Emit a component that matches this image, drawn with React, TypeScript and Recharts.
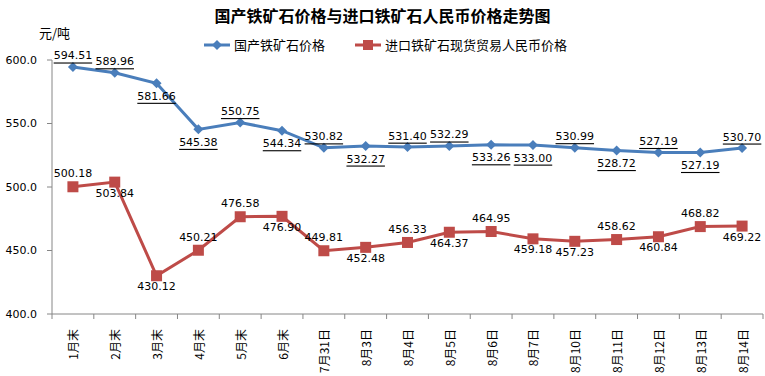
import React from 'react'
import { LabelList, Line, LineChart, XAxis, YAxis } from 'recharts'

const dates = ['1月末', '2月末', '3月末', '4月末', '5月末', '6月末', '7月31日', '8月3日', '8月4日', '8月5日', '8月6日', '8月7日', '8月10日', '8月11日', '8月12日', '8月13日', '8月14日']
const domestic = [594.51, 589.96, 581.66, 545.38, 550.75, 544.34, 530.82, 532.27, 531.40, 532.29, 533.26, 533.00, 530.99, 528.72, 527.19, 527.19, 530.70]
const imported = [500.18, 503.84, 430.12, 450.21, 476.58, 476.90, 449.81, 452.48, 456.33, 464.37, 464.95, 459.18, 457.23, 458.62, 460.84, 468.82, 469.22]
const domesticSide = ['up', 'up', 'down', 'down', 'up', 'down', 'up', 'down', 'up', 'up', 'down', 'down', 'up', 'down', 'up', 'down', 'up']
const importedSide = ['up', 'down', 'down', 'up', 'up', 'down', 'up', 'down', 'up', 'down', 'up', 'down', 'down', 'up', 'down', 'up', 'down']
const yTicks = [400, 450, 500, 550, 600]

const data = dates.map((d, i) => ({ date: d, domestic: domestic[i], imported: imported[i] }))

const BLUE = '#4A7EBB'
const RED = '#BE4B48'
const W = 765
const H = 376
const LEFT = 52
const RIGHT = 2
const band = (W - LEFT - RIGHT) / dates.length
const labelFont = '"DejaVu Sans", Verdana, sans-serif'
const cjk = '"Noto Sans CJK SC", sans-serif'

const Diamond = (props: any) => {
  const { cx, cy } = props
  if (cx == null || cy == null) return null
  const r = 5
  return <path d={`M${cx},${cy - r}L${cx + r},${cy}L${cx},${cy + r}L${cx - r},${cy}Z`} fill={BLUE} />
}

const Square = (props: any) => {
  const { cx, cy } = props
  if (cx == null || cy == null) return null
  return <rect x={cx - 5.5} y={cy - 5.5} width={11} height={11} fill={RED} />
}

const makeLabel = (sides: string[], underline: boolean, upOff: number, downOff: number) => (props: any) => {
  const { x, y, value, index } = props
  const up = sides[index] === 'up'
  return (
    <text
      x={x}
      y={up ? y - upOff : y + downOff}
      textAnchor='middle'
      dominantBaseline='central'
      fontSize={11}
      fontFamily={labelFont}
      fill='#000'
      textDecoration={underline ? 'underline' : undefined}
    >
      {Number(value).toFixed(2)}
    </text>
  )
}

const XTick = (props: any) => {
  const { x, y, payload, index } = props
  const left = x - band / 2
  return (
    <g>
      <line x1={left} y1={y - 8} x2={left} y2={y - 3} stroke='#868686' />
      {index === dates.length - 1 && (
        <line x1={x + band / 2} y1={y - 8} x2={x + band / 2} y2={y - 3} stroke='#868686' />
      )}
      <text
        transform={`translate(${x},${y + 7}) rotate(-90)`}
        textAnchor='end'
        dominantBaseline='central'
        fontSize={12}
        fontFamily={cjk}
        fill='#000'
      >
        {payload.value}
      </text>
    </g>
  )
}

const LegendBox = () => (
  <div style={{ display: 'flex', fontFamily: cjk, fontSize: 13, color: '#000', alignItems: 'center' }}>
    <svg width={28} height={12}>
      <line x1={0} y1={6} x2={26} y2={6} stroke={BLUE} strokeWidth={3} />
      <path d='M13,1L18,6L13,11L8,6Z' fill={BLUE} />
    </svg>
    <span style={{ marginLeft: 2 }}>国产铁矿石价格</span>
    <svg width={28} height={12} style={{ marginLeft: 30 }}>
      <line x1={0} y1={6} x2={26} y2={6} stroke={RED} strokeWidth={3} />
      <rect x={8} y={1} width={10} height={10} fill={RED} />
    </svg>
    <span style={{ marginLeft: 2 }}>进口铁矿石现货贸易人民币价格</span>
  </div>
)

export default function App() {
  return (
    <div style={{ position: 'absolute', left: 0, top: 0, width: W, height: H, background: '#fff' }}>
      <div style={{ position: 'absolute', top: 4, width: W, textAlign: 'center', fontFamily: cjk, fontWeight: 'bold', fontSize: 16, lineHeight: '22px' }}>
        国产铁矿石价格与进口铁矿石人民币价格走势图
      </div>
      <div style={{ position: 'absolute', top: 23, left: 39, fontFamily: cjk, fontSize: 13, lineHeight: '20px' }}>
        元/吨
      </div>
      <div style={{ position: 'absolute', top: 35, left: 204 }}>
        <LegendBox />
      </div>
      <LineChart width={W} height={H} data={data} margin={{ top: 60, right: RIGHT, left: 0, bottom: 0 }}>
        <XAxis
          dataKey='date'
          height={62}
          interval={0}
          padding={{ left: band / 2, right: band / 2 }}
          tick={<XTick />}
          tickLine={false}
          axisLine={{ stroke: '#868686' }}
        />
        <YAxis
          width={LEFT}
          domain={[400, 600]}
          ticks={yTicks}
          tickFormatter={(v: number) => v.toFixed(1)}
          tick={{ fontSize: 11, fontFamily: labelFont, fill: '#000' }}
          tickSize={5}
          tickMargin={10}
          tickLine={{ stroke: '#868686' }}
          axisLine={{ stroke: '#868686' }}
        />
        <Line
          dataKey='domestic'
          stroke={BLUE}
          strokeWidth={3}
          dot={<Diamond />}
          activeDot={false}
          isAnimationActive={false}
        >
          <LabelList dataKey='domestic' content={makeLabel(domesticSide, true, 11, 13)} />
        </Line>
        <Line
          dataKey='imported'
          stroke={RED}
          strokeWidth={3}
          dot={<Square />}
          activeDot={false}
          isAnimationActive={false}
        >
          <LabelList dataKey='imported' content={makeLabel(importedSide, false, 13, 11)} />
        </Line>
      </LineChart>
    </div>
  )
}
